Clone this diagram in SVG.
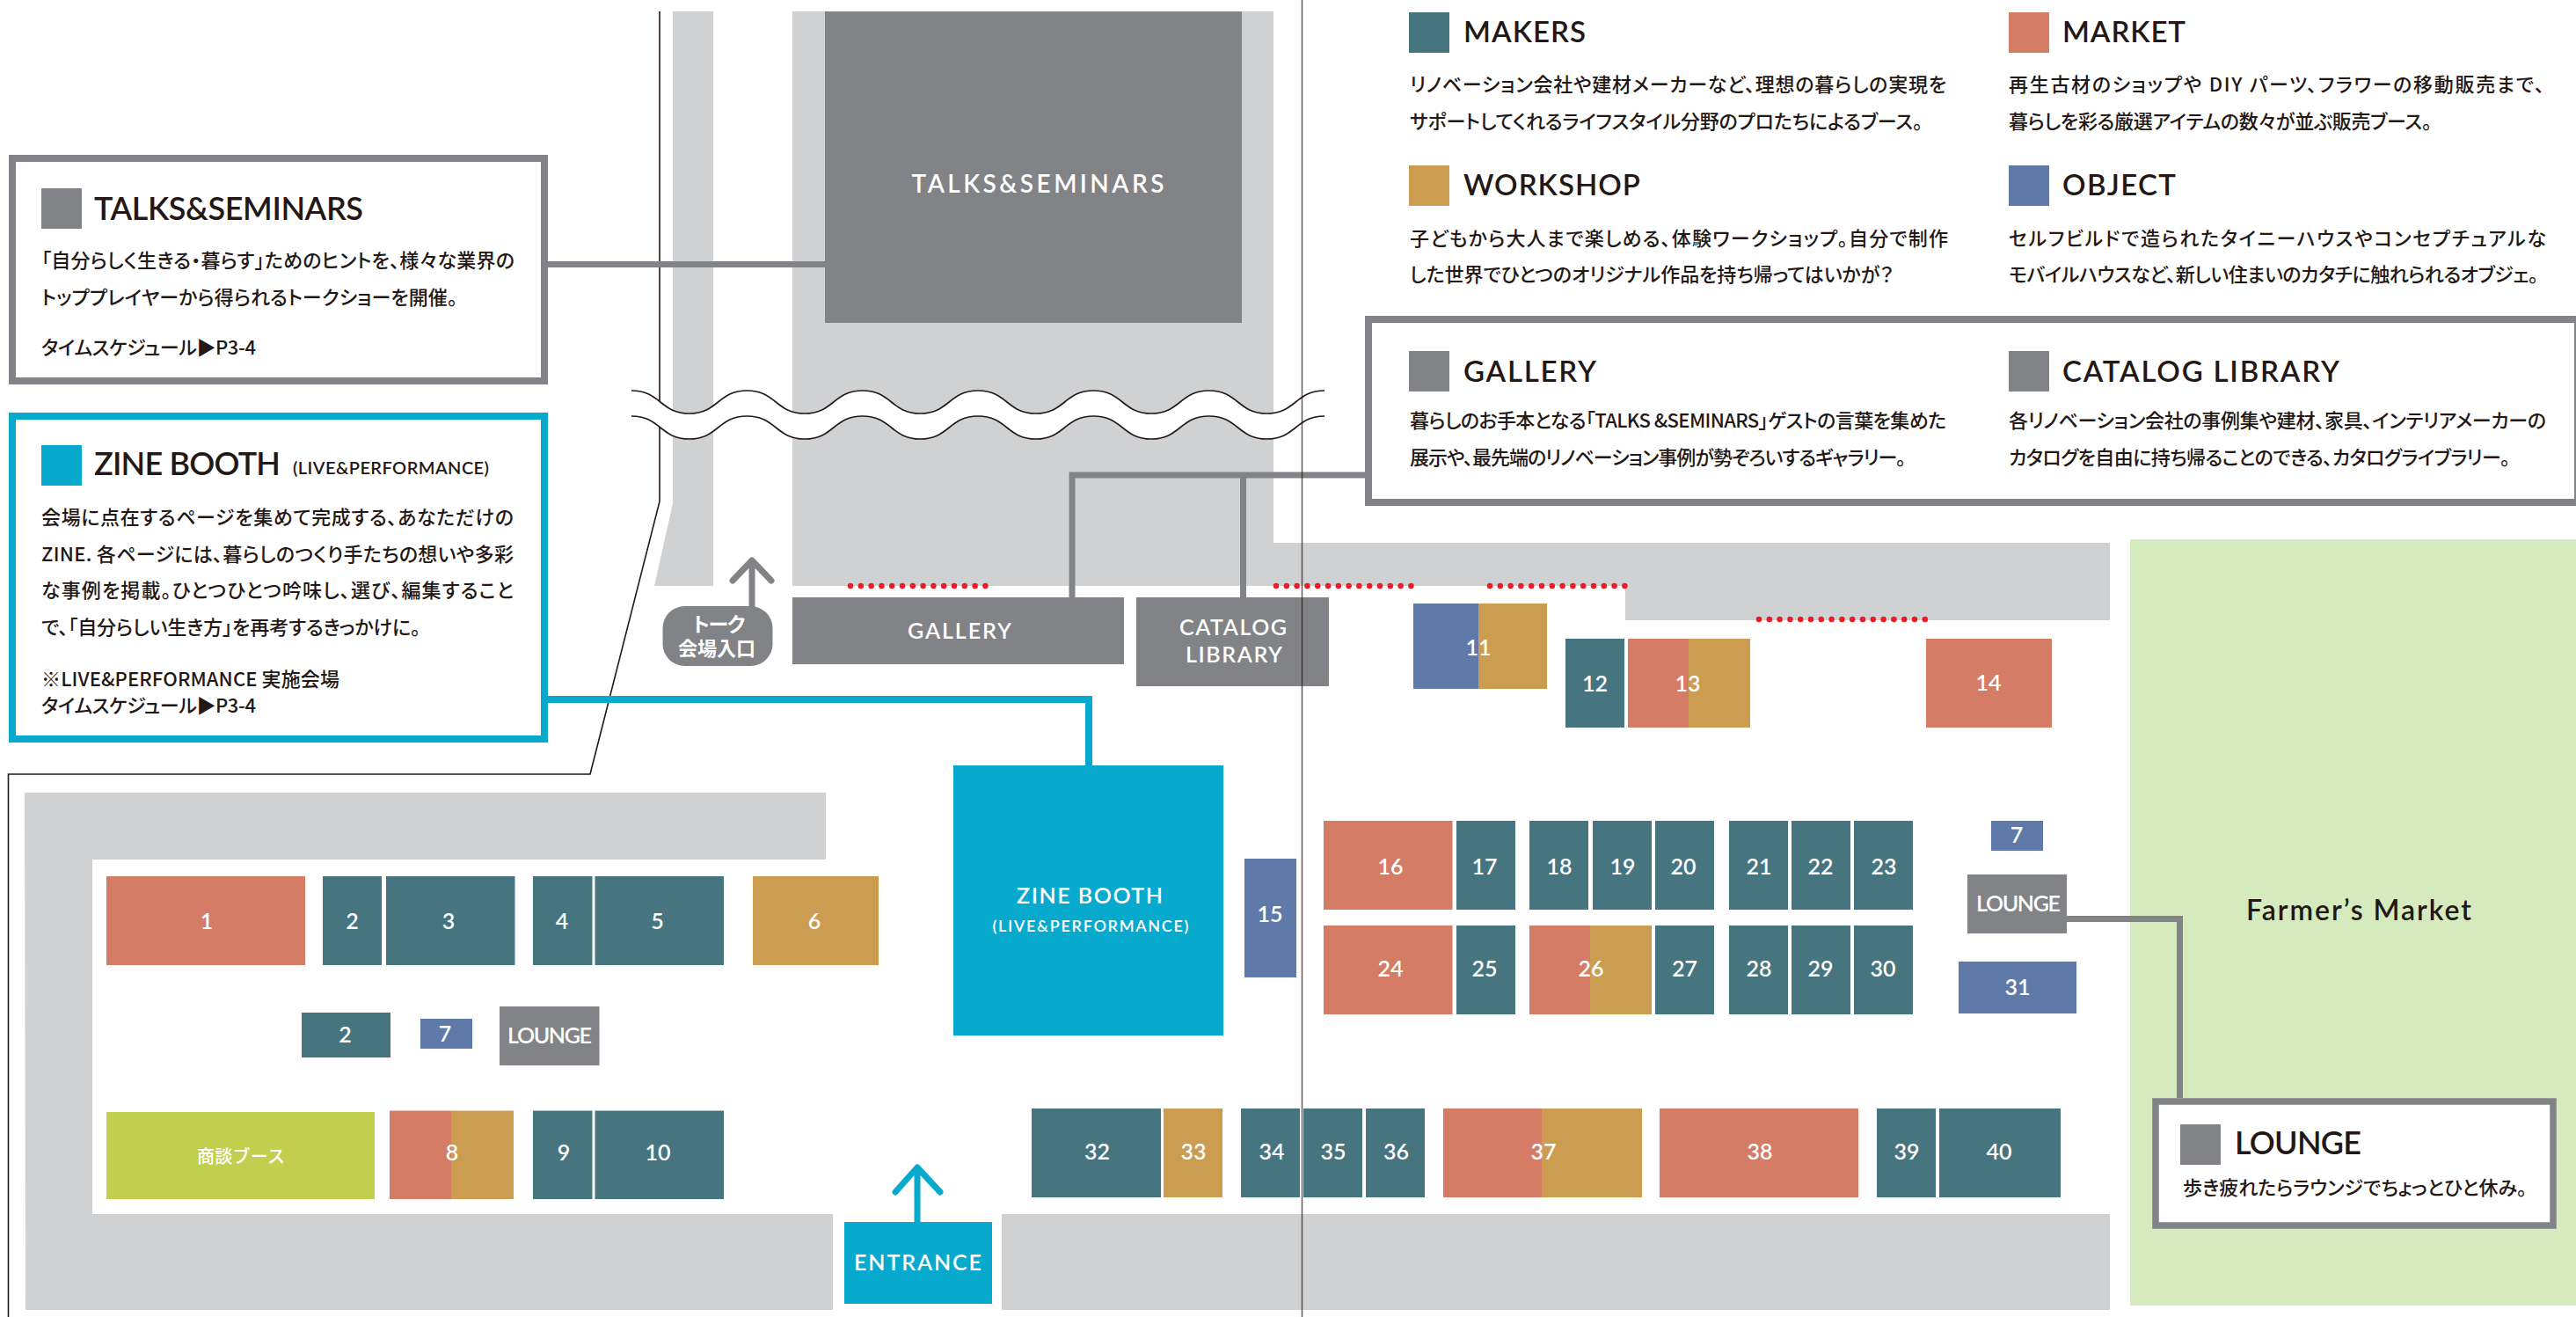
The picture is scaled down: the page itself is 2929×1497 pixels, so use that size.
<svg xmlns="http://www.w3.org/2000/svg" xmlns:xlink="http://www.w3.org/1999/xlink" width="2929" height="1497" viewBox="0 0 2929 1497">
<style>
text{font-family:"Lato","Noto Sans CJK JP",sans-serif}
.teal{fill:#46747f}.coral{fill:#d57c66}.gold{fill:#cc9c50}.blue{fill:#5f7aa9}.grey{fill:#828386}.cyan{fill:#07a9cd}.lime{fill:#c2cf4e}.floor{fill:#d0d1d3}
.n{fill:#fff;font-weight:600;font-size:25px;text-anchor:middle}
.t{fill:#231815;font-weight:600;font-size:33px}
.tl{font-size:36px}
.b{fill:#231815;font-family:"Noto Sans CJK JP","Lato",sans-serif;font-weight:500;font-size:22px;font-feature-settings:"palt"}
.box{fill:#fff;stroke:#828386;stroke-width:8}
.conn{fill:none;stroke:#828386;stroke-width:7}
.dots{fill:none;stroke:#ed1c24;stroke-width:6.5;stroke-linecap:round;stroke-dasharray:0 11.8}
.thin{fill:none;stroke:#231815;stroke-width:1.6}
.arrow{fill:none;stroke-width:7;stroke-linecap:round;stroke-linejoin:round}
</style>
<defs>
<path id="wave" d="M718,444c33,0 32.67,26 65.67,26s32.67,-26 65.67,-26s32.67,26 65.67,26s32.67,-26 65.67,-26s32.67,26 65.67,26s32.67,-26 65.67,-26s32.67,26 65.67,26s32.67,-26 65.67,-26s32.67,26 65.67,26s32.67,-26 65.67,-26s32.67,26 65.67,26s32.67,-26 65.67,-26"/>
</defs>
<rect width="2929" height="1497" fill="#fff"/>

<g id="floor">
<rect x="2422" y="613" width="507" height="871" fill="#d6ebbd"/>
<polygon class="floor" points="901,13 1448,13 1448,617 2399,617 2399,705 1848,705 1848,666 901,666"/>
<polygon class="floor" points="765,13 811,13 811,666 744,666 765,572"/>
<polygon class="floor" points="28,901 939,901 939,977 105,977 105,1380 947,1380 947,1489 29,1489"/>
<rect class="floor" x="1139" y="1380" width="1260" height="109"/>
</g>
<path class="thin" d="M750,13V570L671,880H9.5V1497"/>
<g id="wave-break">
<path fill="#fff" d="M718,444c33,0 32.67,26 65.67,26s32.67,-26 65.67,-26s32.67,26 65.67,26s32.67,-26 65.67,-26s32.67,26 65.67,26s32.67,-26 65.67,-26s32.67,26 65.67,26s32.67,-26 65.67,-26s32.67,26 65.67,26s32.67,-26 65.67,-26s32.67,26 65.67,26s32.67,-26 65.67,-26V473c-33,0 -32.67,26 -65.67,26s-32.67,-26 -65.67,-26s-32.67,26 -65.67,26s-32.67,-26 -65.67,-26s-32.67,26 -65.67,26s-32.67,-26 -65.67,-26s-32.67,26 -65.67,26s-32.67,-26 -65.67,-26s-32.67,26 -65.67,26s-32.67,-26 -65.67,-26s-32.67,26 -65.67,26s-32.67,-26 -65.67,-26Z"/>
<use xlink:href="#wave" href="#wave" class="thin"/>
<use xlink:href="#wave" href="#wave" class="thin" y="29"/>
</g>
<g id="barriers">
<path class="dots" d="M967,666H1125"/>
<path class="dots" d="M1451,666H1609"/>
<path class="dots" d="M1694,666H1852"/>
<path class="dots" d="M2000,704H2193"/>
</g>

<g id="connectors">
<path class="conn" d="M623,300.500H938"/>
<path class="conn" d="M1219,679V540H1552M1413.500,679V540"/>
<path class="conn" d="M2350,1044.500H2478.500V1248"/>
<path class="conn" style="stroke:#07a9cd;stroke-width:8" d="M623,795H1238V870"/>
<path class="arrow" style="stroke:#828386" d="M855,689V639M833,660L855,637L877,660"/>
<path class="arrow" style="stroke:#07a9cd" d="M1043,1389V1329M1018,1355L1043,1327L1069,1355"/>
</g>

<g id="area-talks"><rect class="grey" x="938" y="13" width="474" height="354"/><text class="n" x="1180" y="219" textLength="287" style="font-size:28px">TALKS&amp;SEMINARS</text></g>
<g id="area-gallery"><rect class="grey" x="901" y="679" width="377" height="76"/><text class="n" x="1091" y="726" textLength="118">GALLERY</text></g>
<g id="area-catalog"><rect class="grey" x="1292" y="679" width="219" height="101"/><text class="n" x="1402" y="722" textLength="122">CATALOG</text><text class="n" x="1403" y="753" textLength="110">LIBRARY</text></g>
<g id="talk-entrance"><rect class="grey" x="753.500" y="689" width="125" height="68" rx="25"/><text class="n" x="817" y="718" style="font-size:23px" textLength="64">トーク</text><text class="n" x="815" y="745" style="font-size:22px" textLength="88">会場入口</text></g>
<g id="area-zine"><rect class="cyan" x="1084" y="870" width="307" height="307"/><text class="n" x="1239" y="1027" textLength="166">ZINE BOOTH</text><text class="n" x="1240" y="1059" style="font-size:18px" textLength="223">(LIVE&amp;PERFORMANCE)</text></g>
<g id="entrance"><rect class="cyan" x="960" y="1389" width="168" height="93"/><text class="n" x="1043.500" y="1444" textLength="145">ENTRANCE</text></g>
<g id="farmers-market"><text class="t" x="2554" y="1046" style="font-size:32px" textLength="256">Farmer’s Market</text></g>

<g id="booth-1"><rect class="coral" x="121" y="996" width="226" height="101"/><text class="n" x="235" y="1056">1</text></g>
<g id="booth-2"><rect class="teal" x="367" y="996" width="67" height="101"/><text class="n" x="400.500" y="1056">2</text></g>
<g id="booth-3"><rect class="teal" x="439" y="996" width="146.500" height="101"/><text class="n" x="510" y="1056">3</text></g>
<g id="booth-4"><rect class="teal" x="606" y="996" width="67.500" height="101"/><text class="n" x="639" y="1056">4</text></g>
<g id="booth-5"><rect class="teal" x="676.500" y="996" width="146.500" height="101"/><text class="n" x="747.500" y="1056">5</text></g>
<g id="booth-6"><rect class="gold" x="856" y="996" width="143" height="101"/><text class="n" x="926" y="1056">6</text></g>
<g id="booth-2b"><rect class="teal" x="343" y="1151" width="101" height="51"/><text class="n" x="392.500" y="1185">2</text></g>
<g id="booth-7a"><rect class="blue" x="478" y="1158" width="59" height="34"/><text class="n" x="506" y="1184">7</text></g>
<g id="lounge-a"><rect class="grey" x="568" y="1144" width="113.500" height="67"/><text class="n" x="625" y="1186" textLength="96">LOUNGE</text></g>
<g id="booth-shodan"><rect class="lime" x="121" y="1264" width="305" height="99"/><text class="n" x="274" y="1322" style="font-size:20px;font-weight:500" textLength="100">商談ブース</text></g>
<g id="booth-8"><rect class="coral" x="443" y="1262.500" width="70" height="100.500"/><rect class="gold" x="513" y="1262.500" width="71" height="100.500"/><text class="n" x="514" y="1319">8</text></g>
<g id="booth-9"><rect class="teal" x="606" y="1262.500" width="67.500" height="100.500"/><text class="n" x="641" y="1319">9</text></g>
<g id="booth-10"><rect class="teal" x="676.500" y="1262.500" width="146.500" height="100.500"/><text class="n" x="748" y="1319">10</text></g>
<g id="booth-11"><rect class="blue" x="1607" y="686" width="74" height="97"/><rect class="gold" x="1681" y="686" width="78" height="97"/><text class="n" x="1681" y="745">11</text></g>
<g id="booth-12"><rect class="teal" x="1780" y="726" width="67" height="101"/><text class="n" x="1813.500" y="786">12</text></g>
<g id="booth-13"><rect class="coral" x="1851" y="726" width="69" height="101"/><rect class="gold" x="1920" y="726" width="70" height="101"/><text class="n" x="1919" y="786">13</text></g>
<g id="booth-14"><rect class="coral" x="2190" y="726" width="143" height="101"/><text class="n" x="2261" y="785">14</text></g>
<g id="booth-15"><rect class="blue" x="1415" y="976" width="59" height="135"/><text class="n" x="1444" y="1048">15</text></g>
<g id="booth-16"><rect class="coral" x="1505" y="933" width="146.500" height="101"/><text class="n" x="1581" y="994">16</text></g>
<g id="booth-17"><rect class="teal" x="1656" y="933" width="67" height="101"/><text class="n" x="1688" y="994">17</text></g>
<g id="booth-18"><rect class="teal" x="1739" y="933" width="67" height="101"/><text class="n" x="1773" y="994">18</text></g>
<g id="booth-19"><rect class="teal" x="1811" y="933" width="67" height="101"/><text class="n" x="1845" y="994">19</text></g>
<g id="booth-20"><rect class="teal" x="1882" y="933" width="67" height="101"/><text class="n" x="1914" y="994">20</text></g>
<g id="booth-21"><rect class="teal" x="1966" y="933" width="67" height="101"/><text class="n" x="2000" y="994">21</text></g>
<g id="booth-22"><rect class="teal" x="2037" y="933" width="67" height="101"/><text class="n" x="2070" y="994">22</text></g>
<g id="booth-23"><rect class="teal" x="2108" y="933" width="67" height="101"/><text class="n" x="2142" y="994">23</text></g>
<g id="booth-7b"><rect class="blue" x="2264" y="933" width="59" height="34"/><text class="n" x="2293" y="958">7</text></g>
<g id="lounge-b"><rect class="grey" x="2237" y="994" width="113" height="67"/><text class="n" x="2295" y="1036" textLength="96">LOUNGE</text></g>
<g id="booth-24"><rect class="coral" x="1505" y="1052" width="146.500" height="101"/><text class="n" x="1581" y="1110">24</text></g>
<g id="booth-25"><rect class="teal" x="1656" y="1052" width="67" height="101"/><text class="n" x="1688" y="1110">25</text></g>
<g id="booth-26"><rect class="coral" x="1739" y="1052" width="69" height="101"/><rect class="gold" x="1808" y="1052" width="70" height="101"/><text class="n" x="1809" y="1110">26</text></g>
<g id="booth-27"><rect class="teal" x="1882" y="1052" width="67" height="101"/><text class="n" x="1915.500" y="1110">27</text></g>
<g id="booth-28"><rect class="teal" x="1966" y="1052" width="67" height="101"/><text class="n" x="2000" y="1110">28</text></g>
<g id="booth-29"><rect class="teal" x="2037" y="1052" width="67" height="101"/><text class="n" x="2070" y="1110">29</text></g>
<g id="booth-30"><rect class="teal" x="2108" y="1052" width="67" height="101"/><text class="n" x="2141" y="1110">30</text></g>
<g id="booth-31"><rect class="blue" x="2227" y="1093" width="134" height="59"/><text class="n" x="2294" y="1131">31</text></g>
<g id="booth-32"><rect class="teal" x="1173" y="1260" width="147" height="101"/><text class="n" x="1247.500" y="1318">32</text></g>
<g id="booth-33"><rect class="gold" x="1323" y="1260" width="67" height="101"/><text class="n" x="1357" y="1318">33</text></g>
<g id="booth-34"><rect class="teal" x="1411" y="1260" width="67" height="101"/><text class="n" x="1446" y="1318">34</text></g>
<g id="booth-35"><rect class="teal" x="1482" y="1260" width="67" height="101"/><text class="n" x="1516" y="1318">35</text></g>
<g id="booth-36"><rect class="teal" x="1553" y="1260" width="67" height="101"/><text class="n" x="1587.500" y="1318">36</text></g>
<g id="booth-37"><rect class="coral" x="1641" y="1260" width="112" height="101"/><rect class="gold" x="1753" y="1260" width="114" height="101"/><text class="n" x="1755" y="1318">37</text></g>
<g id="booth-38"><rect class="coral" x="1887" y="1260" width="226" height="101"/><text class="n" x="2001" y="1318">38</text></g>
<g id="booth-39"><rect class="teal" x="2134" y="1260" width="67" height="101"/><text class="n" x="2168" y="1318">39</text></g>
<g id="booth-40"><rect class="teal" x="2205" y="1260" width="138" height="101"/><text class="n" x="2273" y="1318">40</text></g>

<g id="legend-talks">
<rect class="box" x="14" y="180" width="605" height="253"/>
<rect class="grey" x="47" y="214" width="46" height="46"/>
<text class="t tl" x="107" y="250" textLength="306">TALKS&amp;SEMINARS</text>
<text class="b" x="47" y="304" textLength="538">「自分らしく生きる・暮らす」ためのヒントを、様々な業界の</text>
<text class="b" x="47" y="346" textLength="473">トッププレイヤーから得られるトークショーを開催。</text>
<text class="b" x="47" y="403" textLength="244">タイムスケジュール▶P3-4</text>
</g>
<g id="legend-zine">
<rect x="14" y="473" width="605" height="367" fill="#fff" stroke="#07a9cd" stroke-width="8"/>
<rect class="cyan" x="47" y="506" width="46" height="46"/>
<text class="t tl" x="107" y="540" textLength="212">ZINE BOOTH</text>
<text class="t" x="333" y="539" style="font-size:20px" textLength="223">(LIVE&amp;PERFORMANCE)</text>
<text class="b" x="47" y="596" textLength="537">会場に点在するページを集めて完成する、あなただけの</text>
<text class="b" x="47" y="638" textLength="537">ZINE. 各ページには、暮らしのつくり手たちの想いや多彩</text>
<text class="b" x="47" y="679" textLength="537">な事例を掲載。ひとつひとつ吟味し、選び、編集すること</text>
<text class="b" x="47" y="721" textLength="431">で、「自分らしい生き方」を再考するきっかけに。</text>
<text class="b" x="47" y="780" textLength="339">※LIVE&amp;PERFORMANCE 実施会場</text>
<text class="b" x="47" y="810" textLength="244">タイムスケジュール▶P3-4</text>
</g>
<g id="legend-makers">
<rect class="teal" x="1602" y="14" width="46" height="46"/>
<text class="t" x="1664" y="48" textLength="139">MAKERS</text>
<text class="b" x="1603" y="104" textLength="610">リノベーション会社や建材メーカーなど、理想の暮らしの実現を</text>
<text class="b" x="1603" y="146" textLength="583">サポートしてくれるライフスタイル分野のプロたちによるブース。</text>
</g>
<g id="legend-market">
<rect class="coral" x="2284" y="14" width="46" height="46"/>
<text class="t" x="2345" y="48" textLength="140">MARKET</text>
<text class="b" x="2284" y="104" textLength="609">再生古材のショップや DIY パーツ、フラワーの移動販売まで、</text>
<text class="b" x="2284" y="146" textLength="481">暮らしを彩る厳選アイテムの数々が並ぶ販売ブース。</text>
</g>
<g id="legend-workshop">
<rect class="gold" x="1602" y="188" width="46" height="46"/>
<text class="t" x="1664" y="222" textLength="201">WORKSHOP</text>
<text class="b" x="1603" y="279" textLength="612">子どもから大人まで楽しめる、体験ワークショップ。自分で制作</text>
<text class="b" x="1603" y="320" textLength="550">した世界でひとつのオリジナル作品を持ち帰ってはいかが？</text>
</g>
<g id="legend-object">
<rect class="blue" x="2284" y="188" width="46" height="46"/>
<text class="t" x="2345" y="222" textLength="129">OBJECT</text>
<text class="b" x="2284" y="279" textLength="611">セルフビルドで造られたタイニーハウスやコンセプチュアルな</text>
<text class="b" x="2284" y="320" textLength="602">モバイルハウスなど、新しい住まいのカタチに触れられるオブジェ。</text>
</g>
<g id="legend-gallery-catalog">
<rect class="box" x="1556" y="363" width="1375" height="208"/>
<rect class="grey" x="1602" y="399" width="46" height="46"/>
<text class="t" x="1664" y="434" textLength="151">GALLERY</text>
<text class="b" x="1603" y="486" textLength="610">暮らしのお手本となる「TALKS &amp;SEMINARS」ゲストの言葉を集めた</text>
<text class="b" x="1603" y="528" textLength="564">展示や、最先端のリノベーション事例が勢ぞろいするギャラリー。</text>
<rect class="grey" x="2284" y="399" width="46" height="46"/>
<text class="t" x="2345" y="434" textLength="315">CATALOG LIBRARY</text>
<text class="b" x="2284" y="486" textLength="611">各リノベーション会社の事例集や建材、家具、インテリアメーカーの</text>
<text class="b" x="2284" y="528" textLength="570">カタログを自由に持ち帰ることのできる、カタログライブラリー。</text>
</g>
<g id="legend-lounge">
<rect x="2451" y="1252" width="452" height="141" fill="#fff" stroke="#828386" stroke-width="7.500"/>
<rect class="grey" x="2479" y="1278" width="46" height="46"/>
<text class="t tl" x="2541" y="1312" textLength="144">LOUNGE</text>
<text class="b" x="2482" y="1358" textLength="391">歩き疲れたらラウンジでちょっとひと休み。</text>
</g>
<path id="fold" fill="none" stroke="#231815" stroke-opacity=".7" stroke-width="1.500" d="M1480.500,0V1497"/>
</svg>
